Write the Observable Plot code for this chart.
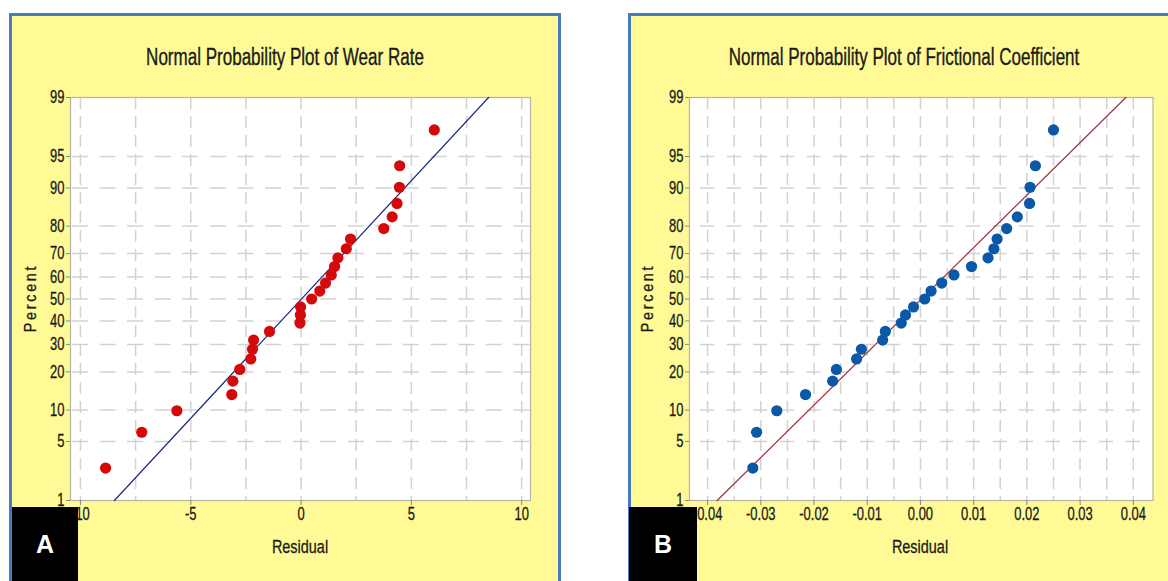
<!DOCTYPE html>
<html><head><meta charset="utf-8">
<script src="https://cdn.jsdelivr.net/npm/d3@7"></script>
<script src="https://cdn.jsdelivr.net/npm/@observablehq/plot@0.6"></script>
<style>
html,body{margin:0;padding:0;background:#fff;width:1168px;height:581px;overflow:hidden;position:relative;font-family:"Liberation Sans",Arial,sans-serif;color:#1a1a1a;}
.panel{position:absolute;top:13px;height:620px;background:#FFFA96;border:3px solid #4A7BC0;box-sizing:border-box;}
.title{position:absolute;top:44px;line-height:26px;font-size:23px;color:#1a1a1a;white-space:nowrap;transform:translateX(-50%) scaleX(0.74);-webkit-text-stroke:0.35px #1a1a1a;}
.xlab{position:absolute;top:535px;line-height:24px;font-size:19px;color:#1a1a1a;white-space:nowrap;transform:translateX(-50%) scaleX(0.76);-webkit-text-stroke:0.3px #1a1a1a;}
.ylab{position:absolute;font-size:16px;letter-spacing:3px;color:#1a1a1a;white-space:nowrap;line-height:18px;transform:translate(-50%,-50%) rotate(-90deg) scaleX(0.9);-webkit-text-stroke:0.3px #1a1a1a;}
.chart{position:absolute;top:0;}
.chart svg text{stroke:#1a1a1a;stroke-width:0.3px;}
.tag{position:absolute;top:507px;height:74px;background:#000;color:#fff;font-weight:bold;font-size:25px;display:flex;align-items:center;justify-content:center;}
</style>
</head><body>
<div class="panel" style="left:9px;width:552px;"></div>
<div class="panel" style="left:628px;width:600px;"></div>
<div class="title" style="left:285px;">Normal Probability Plot of Wear Rate</div>
<div class="title" style="left:904px;">Normal Probability Plot of Frictional Coefficient</div>
<div id="left" class="chart" style="left:0px;"></div>
<div id="right" class="chart" style="left:600px;"></div>
<div class="ylab" style="left:31px;top:298px;">Percent</div>
<div class="ylab" style="left:648px;top:298px;">Percent</div>
<div class="xlab" style="left:300px;">Residual</div>
<div class="xlab" style="left:920px;">Residual</div>
<div class="tag" style="left:12px;width:66px;">A</div>
<div class="tag" style="left:629px;width:68px;">B</div>
<script>
// ---- data ----
const percentTicks = [1, 5, 10, 20, 30, 40, 50, 60, 70, 80, 90, 95, 99];
const gridPercents = [5, 10, 20, 30, 40, 50, 60, 70, 80, 90, 95];
const plotPercent = [2.55, 6.20, 9.85, 13.50, 17.15, 20.80, 24.45, 28.10, 31.75, 35.40, 39.05, 42.70, 46.35, 50.00,
  53.65, 57.30, 60.95, 64.60, 68.25, 71.90, 75.55, 79.20, 82.85, 86.50, 90.15, 93.80, 97.45];
const wearResidual = [-8.86, -7.22, -5.63, -3.14, -3.09, -2.78, -2.28, -2.20, -2.15, -1.43, -0.05, -0.03, -0.02, 0.48,
  0.85, 1.11, 1.37, 1.52, 1.67, 2.05, 2.24, 3.75, 4.13, 4.35, 4.46, 4.47, 6.04];
const frictionResidual = [-0.0315, -0.0308, -0.0270, -0.0216, -0.0165, -0.0158, -0.0120, -0.0111, -0.0071, -0.0066,
  -0.0036, -0.0028, -0.0013, 0.0008, 0.0020, 0.0040, 0.0063, 0.0096, 0.0127, 0.0138, 0.0144, 0.0162, 0.0182,
  0.0205, 0.0206, 0.0216, 0.0250];
const fitPercent = [1, 99];
const wearFitResidual = [-8.46, 8.50];
const frictionFitResidual = [-0.0382, 0.0386];
const wearXTicks = [-10, -5, 0, 5, 10];
const wearXGrid = [-10, -7.5, -5, -2.5, 0, 2.5, 5, 7.5, 10];
const frictionXTicks = [-0.04, -0.03, -0.02, -0.01, 0, 0.01, 0.02, 0.03, 0.04];
const frictionXGrid = [-0.04, -0.035, -0.03, -0.025, -0.02, -0.015, -0.01, -0.005, 0, 0.005, 0.01, 0.015, 0.02, 0.025, 0.03, 0.035, 0.04];

// inverse normal CDF (normal probability axis)
function probit(p){
  const a=[-3.969683028665376e+01,2.209460984245205e+02,-2.759285104469687e+02,1.383577518672690e+02,-3.066479806614716e+01,2.506628277459239e+00];
  const b=[-5.447609879822406e+01,1.615858368580409e+02,-1.556989798598866e+02,6.680131188771972e+01,-1.328068155288572e+01];
  const c=[-7.784894002430293e-03,-3.223964580411365e-01,-2.400758277161838e+00,-2.549732539343734e+00,4.374664141464968e+00,2.938163982698783e+00];
  const d=[7.784695709041462e-03,3.224671290700398e-01,2.445134137142996e+00,3.754408661907416e+00];
  const pl=0.02425, ph=1-pl; let q,r;
  if(p<pl){q=Math.sqrt(-2*Math.log(p));return (((((c[0]*q+c[1])*q+c[2])*q+c[3])*q+c[4])*q+c[5])/((((d[0]*q+d[1])*q+d[2])*q+d[3])*q+1);}
  if(p<=ph){q=p-0.5;r=q*q;return (((((a[0]*r+a[1])*r+a[2])*r+a[3])*r+a[4])*r+a[5])*q/(((((b[0]*r+b[1])*r+b[2])*r+b[3])*r+b[4])*r+1);}
  q=Math.sqrt(-2*Math.log(1-p));return -(((((c[0]*q+c[1])*q+c[2])*q+c[3])*q+c[4])*q+c[5])/((((d[0]*q+d[1])*q+d[2])*q+d[3])*q+1);
}
const zTicks = percentTicks.map(p => probit(p/100));
const zGrid = gridPercents.map(p => probit(p/100));
const pctLabel = z => { const i = zTicks.findIndex(t => Math.abs(t - z) < 1e-9); return i < 0 ? "" : String(percentTicks[i]); };

function squeeze(svg, k){
  svg.querySelectorAll("text").forEach(t => {
    const x = +t.getAttribute("x") || 0;
    const tr = t.getAttribute("transform") || "";
    t.setAttribute("transform", `${tr} translate(${x},0) scale(${k},1) translate(${-x},0)`);
  });
}

function panel(o){
  const pts = o.residual.map((r, i) => ({residual: r, z: probit(plotPercent[i]/100)}));
  const fit = o.fitResidual.map((r, i) => ({residual: r, z: probit(fitPercent[i]/100)}));
  const svg = Plot.plot({
    width: o.width, height: 581,
    marginLeft: o.marginLeft, marginRight: o.marginRight, marginTop: 97, marginBottom: 81,
    x: {domain: o.xDomain},
    y: {domain: [probit(0.01), probit(0.99)]},
    style: {background: "transparent", fontFamily: "'Liberation Sans', Arial, sans-serif", fontSize: "18px", color: "#1a1a1a", overflow: "visible"},
    marks: [
      Plot.frame({fill: "white", stroke: null}),
      Plot.ruleX(o.xGrid, {stroke: "#d2d2d2", strokeWidth: 1.5, strokeDasharray: "12,7"}),
      Plot.ruleY(zGrid, {stroke: "#d2d2d2", strokeWidth: 1.5, strokeDasharray: o.hDash, strokeDashoffset: o.hOffset}),
      Plot.frame({stroke: "#b4b4a6", strokeWidth: 1.2}),
      Plot.axisY(zTicks, {tickSize: 4, tickPadding: 2, tickFormat: pctLabel, label: null, stroke: "#888"}),
      Plot.axisX(o.xTicks, {tickSize: 5, tickPadding: 2, tickFormat: o.xFormat, label: null, stroke: "#888"}),
      Plot.line(fit, {x: "residual", y: "z", stroke: o.lineColor, strokeWidth: 1.2}),
      Plot.dot(pts, {x: "residual", y: "z", r: 5.6, fill: o.dotColor, stroke: null})
    ]
  });
  squeeze(svg, 0.72);
  return svg;
}

document.getElementById("left").append(panel({
  residual: wearResidual, fitResidual: wearFitResidual,
  width: 561, marginLeft: 70, marginRight: 31, xDomain: [-10.45, 10.4],
  xTicks: wearXTicks, xGrid: wearXGrid, xFormat: d => String(d),
  hDash: "16,11.6", hOffset: 25.7,
  dotColor: "#d40a0a", lineColor: "#1f2a80"
}));
document.getElementById("right").append(panel({
  residual: frictionResidual, fitResidual: frictionFitResidual,
  width: 568, marginLeft: 89, marginRight: 15.5, xDomain: [-0.0434, 0.0437],
  xTicks: frictionXTicks, xGrid: frictionXGrid, xFormat: d => d.toFixed(2),
  hDash: "14,12.6", hOffset: 15.5,
  dotColor: "#0a58a8", lineColor: "#a0303a"
}));
</script>
</body></html>
